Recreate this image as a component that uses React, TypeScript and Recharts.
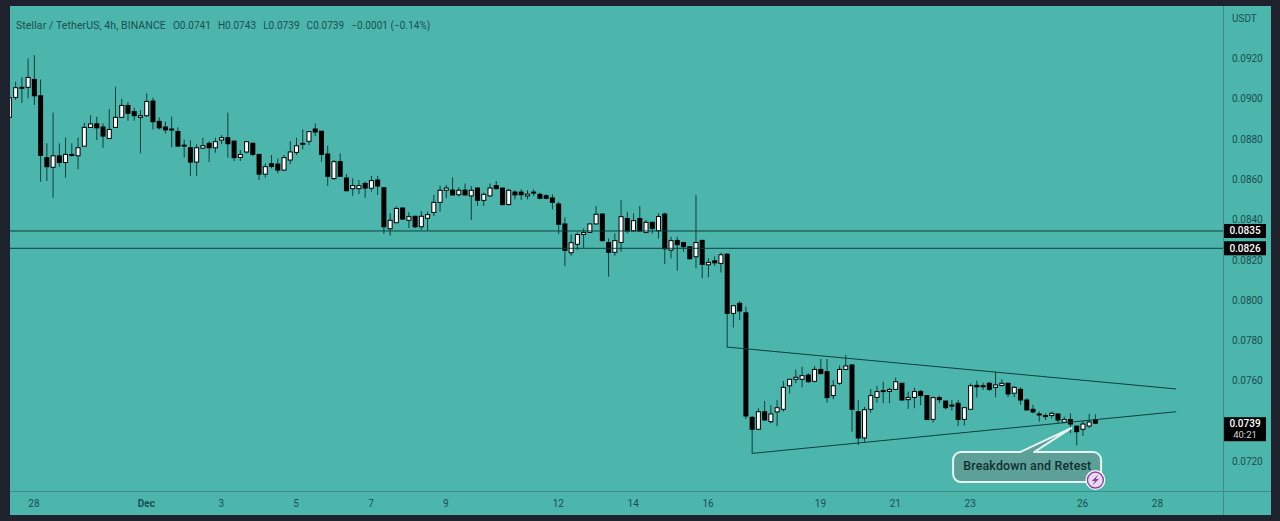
import React from 'react';
import { ComposedChart, Bar, XAxis, YAxis, ReferenceLine, ReferenceDot } from 'recharts';

const openPrices = [
  0.08908, 0.09007, 0.09057, 0.09057, 0.09096, 0.09015, 0.08708, 0.0866, 0.08717, 0.08684,
  0.08724, 0.08717, 0.08765, 0.08858, 0.08876, 0.0886, 0.08803, 0.08858, 0.08908, 0.08967,
  0.08937, 0.08908, 0.08916, 0.08989, 0.08888, 0.0886, 0.0885, 0.08838, 0.0877, 0.08757,
  0.08686, 0.08755, 0.08779, 0.08757, 0.08795, 0.08807, 0.0879, 0.08709, 0.08736, 0.08779,
  0.08724, 0.08626, 0.08678, 0.08676, 0.08646, 0.08696, 0.08734, 0.08779, 0.08789, 0.0885,
  0.08839, 0.08726, 0.08604, 0.08688, 0.08607, 0.08554, 0.08554, 0.0858, 0.08556, 0.08597,
  0.08559, 0.08355, 0.08385, 0.08458, 0.08397, 0.08417, 0.08365, 0.08407, 0.08436, 0.08486,
  0.08546, 0.08547, 0.08524, 0.08547, 0.08518, 0.08557, 0.08496, 0.08518, 0.08569, 0.08557,
  0.08475, 0.08537, 0.08537, 0.08518, 0.08537, 0.08526, 0.08519, 0.08508, 0.08478, 0.08379,
  0.08236, 0.08278, 0.08327, 0.08337, 0.08379, 0.08428, 0.08287, 0.08238, 0.08287, 0.08406,
  0.08345, 0.08406, 0.08337, 0.08387, 0.08345, 0.08428, 0.08249, 0.08297, 0.08287, 0.08266,
  0.08216, 0.08297, 0.08176, 0.08196, 0.08183, 0.08229, 0.07935, 0.07985, 0.07938, 0.07419,
  0.0736, 0.07447, 0.07398, 0.07446, 0.07459, 0.07576, 0.07608, 0.07608, 0.07629, 0.07598,
  0.07657, 0.07646, 0.07527, 0.07588, 0.07657, 0.07679, 0.07447, 0.07317, 0.07459, 0.07518,
  0.07552, 0.07548, 0.07558, 0.07588, 0.07507, 0.07518, 0.07548, 0.07527, 0.07409, 0.07517,
  0.075, 0.0748, 0.07489, 0.07409, 0.07459, 0.07578, 0.07576, 0.07588, 0.07568, 0.07577,
  0.07588, 0.07539, 0.07558, 0.07505, 0.07459, 0.07436, 0.07428, 0.07428, 0.07436, 0.07395,
  0.07408, 0.07376, 0.0736, 0.07376, 0.07408,
];

const closePrices = [
  0.09005, 0.09055, 0.09055, 0.09106, 0.09015, 0.08719, 0.08663, 0.08717, 0.08684, 0.08724,
  0.08722, 0.08757, 0.08858, 0.08875, 0.08856, 0.08815, 0.08848, 0.08908, 0.08967, 0.08928,
  0.08916, 0.08916, 0.08987, 0.08886, 0.08856, 0.08846, 0.08848, 0.08765, 0.08769, 0.08686,
  0.08757, 0.08767, 0.08757, 0.08787, 0.08807, 0.08777, 0.08708, 0.08724, 0.08787, 0.08724,
  0.08626, 0.08663, 0.08664, 0.08646, 0.08708, 0.08736, 0.08767, 0.08777, 0.08837, 0.08835,
  0.08724, 0.08615, 0.08688, 0.08615, 0.08544, 0.08569, 0.08569, 0.08557, 0.08594, 0.08567,
  0.08365, 0.08397, 0.08456, 0.08403, 0.08415, 0.08365, 0.08417, 0.08425, 0.08486, 0.08546,
  0.08557, 0.08523, 0.08546, 0.08523, 0.08546, 0.08496, 0.08526, 0.08557, 0.08554, 0.08475,
  0.08546, 0.08523, 0.08524, 0.08527, 0.08536, 0.08506, 0.08506, 0.08486, 0.08377, 0.08248,
  0.08286, 0.08326, 0.08337, 0.08379, 0.08427, 0.08296, 0.08238, 0.08296, 0.08415, 0.08344,
  0.08395, 0.08344, 0.08387, 0.08357, 0.08416, 0.08256, 0.08296, 0.08276, 0.08266, 0.08206,
  0.08287, 0.08178, 0.08188, 0.08186, 0.08226, 0.07935, 0.07973, 0.07947, 0.07426, 0.0736,
  0.07447, 0.07406, 0.07436, 0.07467, 0.07568, 0.07608, 0.07618, 0.07626, 0.07596, 0.07657,
  0.07636, 0.07517, 0.07576, 0.07657, 0.07674, 0.07459, 0.07317, 0.07457, 0.07527, 0.07547,
  0.0755, 0.07557, 0.07596, 0.07505, 0.07518, 0.07547, 0.07527, 0.07408, 0.07517, 0.07507,
  0.07467, 0.07478, 0.07408, 0.07467, 0.07576, 0.07571, 0.07575, 0.07558, 0.0758, 0.07588,
  0.07535, 0.07568, 0.07505, 0.07456, 0.07446, 0.07434, 0.07426, 0.07439, 0.07406, 0.07408,
  0.07386, 0.07348, 0.07386, 0.07396, 0.0739,
];

const highPrices = [
  0.09019, 0.09085, 0.09106, 0.092, 0.09217, 0.09096, 0.08779, 0.08931, 0.08779, 0.08807,
  0.08779, 0.08807, 0.08881, 0.08919, 0.08911, 0.08878, 0.08949, 0.0906, 0.09, 0.08984,
  0.08956, 0.08944, 0.09027, 0.09005, 0.08908, 0.08886, 0.08911, 0.08858, 0.08798, 0.08795,
  0.08774, 0.08807, 0.0879, 0.08807, 0.0882, 0.08931, 0.0879, 0.08746, 0.0879, 0.08784,
  0.08726, 0.08679, 0.08721, 0.08704, 0.08721, 0.0879, 0.08807, 0.08848, 0.08837, 0.08878,
  0.08839, 0.08767, 0.08696, 0.08729, 0.08627, 0.08605, 0.08597, 0.08589, 0.08617, 0.08617,
  0.08561, 0.08432, 0.08465, 0.08461, 0.08437, 0.0842, 0.08443, 0.0844, 0.08523, 0.08569,
  0.08572, 0.0861, 0.08561, 0.0858, 0.08567, 0.08561, 0.08534, 0.0858, 0.08592, 0.08557,
  0.08554, 0.08547, 0.08551, 0.08547, 0.08551, 0.08534, 0.08526, 0.08526, 0.08489, 0.08412,
  0.08327, 0.08336, 0.08357, 0.08379, 0.08468, 0.08431, 0.08307, 0.08332, 0.08497, 0.08439,
  0.08431, 0.08468, 0.08398, 0.0839, 0.08431, 0.08435, 0.08315, 0.08315, 0.08287, 0.08269,
  0.08522, 0.08302, 0.08208, 0.08219, 0.08236, 0.08233, 0.07976, 0.07996, 0.07968, 0.07426,
  0.07464, 0.075, 0.0748, 0.07505, 0.076, 0.07608, 0.07657, 0.07671, 0.07638, 0.07674,
  0.07709, 0.07709, 0.07604, 0.07676, 0.07729, 0.07684, 0.07505, 0.07472, 0.0756, 0.07575,
  0.07596, 0.07566, 0.07616, 0.07591, 0.07547, 0.07566, 0.07555, 0.0753, 0.07522, 0.07527,
  0.07502, 0.07505, 0.07505, 0.07472, 0.07588, 0.07601, 0.07591, 0.07596, 0.07646, 0.07608,
  0.07592, 0.07575, 0.07568, 0.07514, 0.07481, 0.07448, 0.07439, 0.07448, 0.07436, 0.07423,
  0.07439, 0.07376, 0.07401, 0.07436, 0.07434,
];

const lowPrices = [
  0.08903, 0.08994, 0.0898, 0.09002, 0.08969, 0.08588, 0.08592, 0.08509, 0.08663, 0.08608,
  0.08712, 0.0865, 0.08765, 0.08858, 0.08795, 0.08757, 0.08803, 0.08858, 0.08906, 0.08891,
  0.08891, 0.08729, 0.08911, 0.08848, 0.08848, 0.08828, 0.08759, 0.08765, 0.08709, 0.08617,
  0.08617, 0.08754, 0.08686, 0.08732, 0.08775, 0.08708, 0.08691, 0.08691, 0.08729, 0.08716,
  0.08597, 0.08608, 0.08655, 0.0863, 0.08641, 0.08676, 0.08721, 0.08749, 0.0877, 0.08815,
  0.08688, 0.08567, 0.08597, 0.08614, 0.08539, 0.08519, 0.08527, 0.08508, 0.08539, 0.08523,
  0.08329, 0.08321, 0.08385, 0.08403, 0.08359, 0.08357, 0.08349, 0.08346, 0.08418, 0.0844,
  0.08506, 0.08519, 0.08514, 0.08519, 0.08398, 0.08468, 0.08468, 0.08514, 0.08551, 0.08471,
  0.08471, 0.08501, 0.08498, 0.08501, 0.08518, 0.08501, 0.08501, 0.08451, 0.08329, 0.0817,
  0.08221, 0.0825, 0.08258, 0.08336, 0.08377, 0.08291, 0.08117, 0.08221, 0.08241, 0.08332,
  0.0834, 0.0834, 0.08332, 0.08332, 0.08307, 0.0818, 0.08208, 0.08147, 0.08241, 0.08203,
  0.08158, 0.08109, 0.08114, 0.0817, 0.08138, 0.07768, 0.07865, 0.07902, 0.07411, 0.07241,
  0.0736, 0.07403, 0.07389, 0.07376, 0.07447, 0.07538, 0.07588, 0.07568, 0.07591, 0.07593,
  0.07634, 0.07492, 0.07509, 0.0758, 0.07654, 0.07348, 0.07282, 0.07298, 0.07442, 0.07492,
  0.07489, 0.07489, 0.07555, 0.07505, 0.07461, 0.07464, 0.07479, 0.07406, 0.07393, 0.07489,
  0.07459, 0.07452, 0.07376, 0.07378, 0.07459, 0.07518, 0.07555, 0.0755, 0.07519, 0.07572,
  0.07519, 0.07519, 0.07481, 0.07453, 0.07439, 0.07398, 0.07406, 0.07413, 0.0739, 0.0739,
  0.0734, 0.0728, 0.07328, 0.07365, 0.07386,
];

// bar index -> date label, one bar every 4 hours
const dateTickBars = [4, 22, 34, 46, 58, 70, 88, 100, 112, 130, 142, 154, 172, 184];
const dateTickLabels = ['28', 'Dec', '3', '5', '7', '9', '12', '14', '16', '19', '21', '23', '26', '28'];
const priceTicks = [0.072, 0.076, 0.078, 0.08, 0.082, 0.084, 0.086, 0.088, 0.09, 0.092];

const upperTrend = [{ x: 115, y: 0.07768 }, { x: 187, y: 0.0756 }];
const lowerTrend = [{ x: 119, y: 0.0724 }, { x: 187, y: 0.07447 }];
const levelPrices = [0.08344, 0.08258];
const levelLabels = ['0.0835', '0.0826'];
const lastPrice = 0.0739;
const retestPrice = 0.07366;
const retestBar = 170;
const slotCount = 195;
const ohlcLabels = ['O0.0741', 'H0.0743', 'L0.0739', 'C0.0739', '−0.0001 (−0.14%)'];

const rows = Array.from({ length: slotCount }, (_, idx) => ({
  idx,
  open: openPrices[idx],
  close: closePrices[idx],
  high: highPrices[idx],
  low: lowPrices[idx],
  range: idx < openPrices.length ? [lowPrices[idx], highPrices[idx]] : null,
}));

const TEAL = '#4db6ac';
const DARK = '#1e222c';
const INK = '#174f50';
const AXIS_LINE = '#3b8f88';
const UI_FONT = 'Roboto, sans-serif';

const CandleShape = (props: any) => {
  const { x, y, width, height, payload } = props;
  if (payload.range == null) return <g />;
  const perPrice = height / (payload.high - payload.low);
  const up = payload.close >= payload.open;
  const bodyTop = y + (payload.high - Math.max(payload.open, payload.close)) * perPrice;
  const bodyH = Math.max(Math.abs(payload.open - payload.close) * perPrice, 1);
  const cx = x + width / 2;
  return (
    <g>
      <line x1={cx} x2={cx} y1={y} y2={y + height} stroke="#0c3f3b" strokeWidth={1} />
      {up ? (
        <rect x={x + 0.5} y={bodyTop} width={width - 1} height={bodyH} fill="#ffffff" stroke="#000000" strokeWidth={1} />
      ) : (
        <rect x={x} y={bodyTop - 0.5} width={width} height={bodyH + 1} fill="#000000" />
      )}
    </g>
  );
};

const DateTick = ({ x, y, payload }: any) => {
  const label = dateTickLabels[dateTickBars.indexOf(payload.value)];
  return (
    <text x={x} y={y} dy={3.5} textAnchor="middle" fontFamily={UI_FONT} fontSize={10} fill={INK}
      fontWeight={label === 'Dec' ? 700 : 400}>
      {label}
    </text>
  );
};

const PriceTag = ({ viewBox, text }: any) => {
  const left = viewBox.x + viewBox.width + 1;
  return (
    <g>
      <rect x={left} y={viewBox.y - 7} width={42} height={14} fill="#000000" />
      <text x={left + 21} y={viewBox.y + 3.5} textAnchor="middle" fontFamily={UI_FONT} fontSize={10} fontWeight={500} fill="#ffffff">
        {text}
      </text>
    </g>
  );
};

const LastPriceTag = ({ viewBox }: any) => {
  const left = viewBox.x + viewBox.width + 1;
  return (
    <g fontFamily={UI_FONT} textAnchor="middle">
      <rect x={left} y={viewBox.y - 6} width={42} height={24} fill="#000000" />
      <text x={left + 21} y={viewBox.y + 4} fontSize={10} fontWeight={500} fill="#ffffff">0.0739</text>
      <text x={left + 21} y={viewBox.y + 15} fontSize={9.5} fill="#d5d5d5">40:21</text>
    </g>
  );
};

// callout drawn relative to the candle it points at
const RetestCallout = ({ cx, cy }: any) => {
  const left = cx - 117;
  const right = cx + 31;
  const top = cy + 24;
  const bottom = cy + 54;
  const r = 8;
  const d = [
    `M${left + r},${top}`,
    `L${cx - 50},${top}`,
    `L${cx + 1},${cy}`,
    `L${cx - 36},${top}`,
    `L${right - r},${top}`,
    `A${r},${r} 0 0 1 ${right},${top + r}`,
    `L${right},${bottom - r}`,
    `A${r},${r} 0 0 1 ${right - r},${bottom}`,
    `L${left + r},${bottom}`,
    `A${r},${r} 0 0 1 ${left},${bottom - r}`,
    `L${left},${top + r}`,
    `A${r},${r} 0 0 1 ${left + r},${top}`,
    'Z',
  ].join(' ');
  const bx = cx + 25.3;
  const by = cy + 52;
  return (
    <g>
      <path d={d} fill="#5ca098" stroke="#e4f5f2" strokeWidth={2} strokeLinejoin="round" />
      <text x={cx - 42.8} y={cy + 42} textAnchor="middle" fontFamily={UI_FONT} fontSize={12.4} fontWeight={500}
        letterSpacing={0.2} fill="#10302f">
        Breakdown and Retest
      </text>
      <circle cx={bx} cy={by} r={10} fill="#ffffff" />
      <circle cx={bx} cy={by} r={8} fill="#e6dcec" stroke="#8e3fa8" strokeWidth={1.4} />
      <path d={`M${bx + 3},${by - 5.5} L${bx - 3.6},${by + 1} L${bx - 0.4},${by + 1} L${bx - 3},${by + 5.5} L${bx + 3.6},${by - 1} L${bx + 0.4},${by - 1} Z`} fill="#8e3fa8" />
    </g>
  );
};

export default function App() {
  return (
    <div style={{ position: 'fixed', left: 0, top: 0, width: 1280, height: 521, background: DARK, overflow: 'hidden' }}>
      <div style={{ position: 'absolute', left: 9.5, top: 6, width: 1261.5, height: 509, background: TEAL, overflow: 'hidden' }}>
        {/* axis lines run past the plot into the scale corner */}
        <div style={{ position: 'absolute', left: 1213, top: 0, width: 1, height: 509, background: AXIS_LINE }} />
        <div style={{ position: 'absolute', left: 0, top: 485, width: 1262, height: 1, background: AXIS_LINE }} />
        <div style={{ position: 'absolute', left: -9.5, top: -6 }}>
          <ComposedChart
            width={1271}
            height={515}
            data={rows}
            margin={{ top: 6, right: 0, bottom: 0, left: 5.9 }}
            barCategoryGap={0}
          >
            <XAxis
              dataKey="idx"
              type="category"
              ticks={dateTickBars}
              interval={0}
              height={24}
              tick={<DateTick />}
              tickLine={false}
              tickSize={0}
              tickMargin={12}
              axisLine={false}
            />
            <YAxis
              orientation="right"
              width={48}
              type="number"
              domain={[0.070536, 0.094605]}
              allowDataOverflow
              ticks={priceTicks}
              interval={0}
              tickFormatter={(v: number) => v.toFixed(4)}
              tick={{ fontFamily: UI_FONT, fontSize: 10, fill: INK }}
              tickLine={false}
              tickSize={0}
              tickMargin={9}
              axisLine={false}
            />
            <Bar dataKey="range" barSize={5} shape={<CandleShape />} isAnimationActive={false} />
            {levelPrices.map((price, i) => (
              <ReferenceLine
                key={price}
                y={price}
                stroke="#0d3f3c"
                strokeWidth={1}
                label={(p: any) => <PriceTag viewBox={p.viewBox} text={levelLabels[i]} />}
              />
            ))}
            <ReferenceLine y={lastPrice} stroke="none" label={(p: any) => <LastPriceTag viewBox={p.viewBox} />} />
            <ReferenceLine segment={upperTrend} stroke="#0d3f3c" strokeWidth={1} />
            <ReferenceLine segment={lowerTrend} stroke="#0d3f3c" strokeWidth={1} />
            <ReferenceDot x={retestBar} y={retestPrice} shape={<RetestCallout />} />
          </ComposedChart>
        </div>
        <div style={{ position: 'absolute', left: 6.5, top: 8, color: INK, whiteSpace: 'nowrap', fontFamily: UI_FONT }}>
          <span style={{ fontSize: 10.5, letterSpacing: 0.1 }}>Stellar / TetherUS, 4h, BINANCE</span>
          {ohlcLabels.map((part) => (
            <span key={part} style={{ fontSize: 10, marginLeft: 7, letterSpacing: 0.05 }}>{part}</span>
          ))}
        </div>
        <div style={{ position: 'absolute', left: 1222.5, top: 7, font: `10px ${UI_FONT}`, color: INK }}>USDT</div>
      </div>
    </div>
  );
}
